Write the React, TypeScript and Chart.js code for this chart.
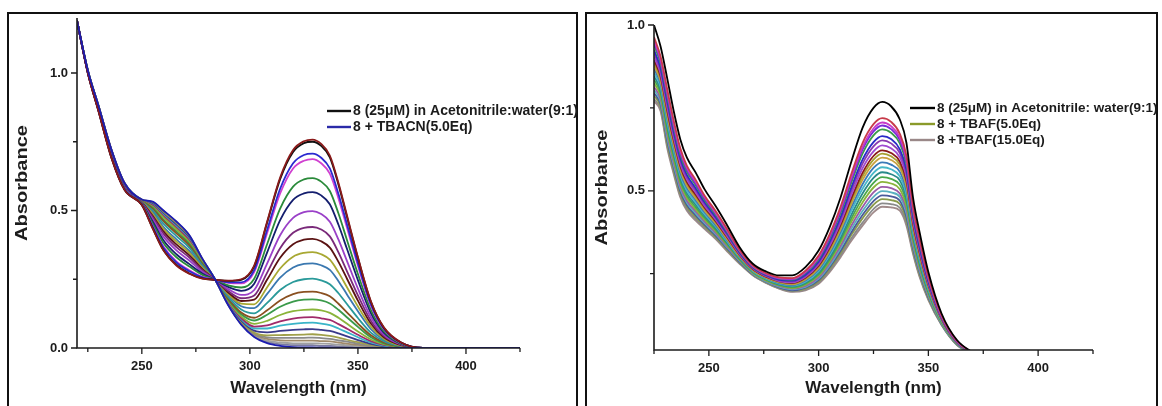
import React, { useEffect, useRef } from 'react';
import { Chart, registerables } from 'chart.js';

Chart.register(...registerables);

const FONT = '"Liberation Sans", Arial, Helvetica, sans-serif';
const INK = '#1c1c1c';

// ---------- Left panel: 8 + TBACN titration ----------
const cnWavelengths = [220, 225, 230, 236, 242, 250, 255, 260, 266, 272, 278, 284, 290, 296, 302, 308, 314, 320, 325, 329, 333, 337, 341, 345, 350, 356, 362, 370, 380, 425];
const cn01 = [1.19, 1.00, 0.86, 0.69, 0.575, 0.52, 0.435, 0.355, 0.30, 0.27, 0.252, 0.248, 0.245, 0.25, 0.30, 0.46, 0.62, 0.72, 0.752, 0.758, 0.742, 0.70, 0.60, 0.48, 0.33, 0.17, 0.075, 0.02, 0, 0];
const cn02 = [1.19, 1.00, 0.86, 0.69, 0.575, 0.52, 0.436, 0.356, 0.302, 0.271, 0.253, 0.248, 0.244, 0.248, 0.297, 0.456, 0.614, 0.713, 0.745, 0.750, 0.735, 0.693, 0.594, 0.475, 0.327, 0.168, 0.074, 0.02, 0, 0];
const cn03 = [1.19, 1.001, 0.861, 0.692, 0.577, 0.521, 0.442, 0.365, 0.311, 0.279, 0.257, 0.248, 0.239, 0.239, 0.283, 0.430, 0.579, 0.672, 0.702, 0.707, 0.692, 0.653, 0.560, 0.448, 0.308, 0.159, 0.070, 0.019, 0, 0];
const cn04 = [1.19, 1.001, 0.862, 0.693, 0.577, 0.522, 0.444, 0.369, 0.315, 0.283, 0.259, 0.248, 0.237, 0.235, 0.276, 0.418, 0.562, 0.653, 0.681, 0.687, 0.672, 0.634, 0.544, 0.435, 0.299, 0.154, 0.068, 0.018, 0, 0];
const cn05 = [1.19, 1.002, 0.864, 0.696, 0.580, 0.524, 0.453, 0.382, 0.330, 0.296, 0.266, 0.248, 0.228, 0.220, 0.252, 0.378, 0.507, 0.587, 0.613, 0.618, 0.605, 0.571, 0.489, 0.391, 0.269, 0.139, 0.061, 0.016, 0, 0];
const cn06 = [1.19, 1.003, 0.865, 0.698, 0.581, 0.525, 0.460, 0.392, 0.341, 0.305, 0.271, 0.248, 0.222, 0.208, 0.234, 0.348, 0.465, 0.539, 0.562, 0.567, 0.555, 0.523, 0.448, 0.359, 0.247, 0.127, 0.056, 0.015, 0, 0];
const cn07 = [1.19, 1.003, 0.867, 0.700, 0.584, 0.527, 0.468, 0.405, 0.355, 0.318, 0.277, 0.248, 0.214, 0.193, 0.211, 0.308, 0.410, 0.473, 0.494, 0.498, 0.487, 0.459, 0.394, 0.315, 0.216, 0.112, 0.049, 0.013, 0, 0];
const cn08 = [1.19, 1.004, 0.868, 0.703, 0.586, 0.528, 0.476, 0.416, 0.367, 0.329, 0.283, 0.248, 0.207, 0.181, 0.191, 0.274, 0.363, 0.419, 0.437, 0.440, 0.431, 0.406, 0.348, 0.278, 0.191, 0.099, 0.044, 0.012, 0, 0];
const cn09 = [1.19, 1.005, 0.870, 0.704, 0.587, 0.530, 0.481, 0.424, 0.377, 0.337, 0.287, 0.248, 0.202, 0.171, 0.176, 0.249, 0.328, 0.377, 0.394, 0.397, 0.388, 0.365, 0.313, 0.251, 0.172, 0.089, 0.039, 0.010, 0, 0];
const cn10 = [1.19, 1.005, 0.871, 0.706, 0.589, 0.531, 0.488, 0.433, 0.387, 0.346, 0.292, 0.248, 0.196, 0.161, 0.159, 0.221, 0.289, 0.332, 0.346, 0.349, 0.341, 0.321, 0.275, 0.220, 0.151, 0.078, 0.034, 0.009, 0, 0];
const cn11 = [1.19, 1.006, 0.872, 0.708, 0.590, 0.532, 0.493, 0.441, 0.395, 0.353, 0.295, 0.248, 0.192, 0.152, 0.145, 0.197, 0.256, 0.293, 0.306, 0.308, 0.301, 0.284, 0.243, 0.194, 0.134, 0.069, 0.030, 0.008, 0, 0];
const cn12 = [1.19, 1.007, 0.873, 0.710, 0.592, 0.533, 0.500, 0.452, 0.407, 0.364, 0.301, 0.248, 0.185, 0.140, 0.126, 0.164, 0.211, 0.240, 0.250, 0.252, 0.246, 0.232, 0.199, 0.159, 0.109, 0.056, 0.025, 0.007, 0, 0];
const cn13 = [1.19, 1.007, 0.875, 0.712, 0.593, 0.535, 0.506, 0.461, 0.417, 0.372, 0.305, 0.248, 0.179, 0.129, 0.110, 0.137, 0.173, 0.196, 0.204, 0.205, 0.200, 0.188, 0.161, 0.129, 0.089, 0.046, 0.020, 0.005, 0, 0];
const cn14 = [1.19, 1.008, 0.875, 0.713, 0.594, 0.535, 0.510, 0.466, 0.423, 0.378, 0.308, 0.248, 0.176, 0.123, 0.100, 0.121, 0.150, 0.169, 0.176, 0.177, 0.173, 0.162, 0.139, 0.111, 0.077, 0.039, 0.017, 0.005, 0, 0];
const cn15 = [1.19, 1.008, 0.876, 0.715, 0.595, 0.536, 0.514, 0.474, 0.431, 0.384, 0.312, 0.248, 0.172, 0.115, 0.088, 0.099, 0.120, 0.134, 0.139, 0.140, 0.137, 0.128, 0.110, 0.088, 0.060, 0.031, 0.014, 0.004, 0, 0];
const cn16 = [1.19, 1.009, 0.877, 0.716, 0.596, 0.537, 0.518, 0.479, 0.437, 0.390, 0.314, 0.248, 0.168, 0.109, 0.078, 0.082, 0.097, 0.107, 0.111, 0.112, 0.108, 0.102, 0.087, 0.070, 0.048, 0.025, 0.011, 0.003, 0, 0];
const cn17 = [1.19, 1.009, 0.878, 0.716, 0.597, 0.538, 0.520, 0.483, 0.441, 0.393, 0.316, 0.248, 0.166, 0.105, 0.071, 0.071, 0.081, 0.088, 0.091, 0.092, 0.089, 0.083, 0.071, 0.057, 0.039, 0.020, 0.009, 0.002, 0, 0];
const cn18 = [1.19, 1.009, 0.878, 0.717, 0.598, 0.538, 0.524, 0.487, 0.446, 0.398, 0.319, 0.248, 0.163, 0.100, 0.063, 0.057, 0.062, 0.066, 0.068, 0.069, 0.066, 0.062, 0.053, 0.042, 0.029, 0.015, 0.007, 0.002, 0, 0];
const cn19 = [1.19, 1.009, 0.879, 0.718, 0.598, 0.539, 0.526, 0.491, 0.450, 0.401, 0.320, 0.248, 0.161, 0.095, 0.056, 0.046, 0.047, 0.048, 0.049, 0.050, 0.048, 0.044, 0.038, 0.030, 0.021, 0.011, 0.005, 0.001, 0, 0];
const cn20 = [1.19, 1.010, 0.879, 0.719, 0.599, 0.539, 0.527, 0.493, 0.452, 0.403, 0.322, 0.248, 0.159, 0.093, 0.052, 0.039, 0.037, 0.037, 0.037, 0.038, 0.036, 0.033, 0.028, 0.023, 0.016, 0.008, 0.004, 0.001, 0, 0];
const cn21 = [1.19, 1.010, 0.879, 0.719, 0.599, 0.539, 0.529, 0.495, 0.455, 0.405, 0.323, 0.248, 0.158, 0.090, 0.049, 0.033, 0.028, 0.027, 0.027, 0.027, 0.025, 0.024, 0.020, 0.016, 0.011, 0.006, 0.002, 0.001, 0, 0];
const cn22 = [1.19, 1.010, 0.880, 0.719, 0.600, 0.540, 0.530, 0.497, 0.457, 0.407, 0.324, 0.248, 0.157, 0.088, 0.045, 0.027, 0.020, 0.017, 0.017, 0.017, 0.016, 0.015, 0.012, 0.010, 0.007, 0.003, 0.002, 0, 0, 0];
const cn23 = [1.19, 1.010, 0.880, 0.720, 0.600, 0.540, 0.531, 0.499, 0.458, 0.409, 0.324, 0.248, 0.156, 0.087, 0.043, 0.022, 0.014, 0.010, 0.010, 0.010, 0.008, 0.008, 0.006, 0.005, 0.003, 0.002, 0.001, 0, 0, 0];
const cn24 = [1.19, 1.01, 0.88, 0.72, 0.60, 0.54, 0.532, 0.50, 0.46, 0.41, 0.325, 0.248, 0.155, 0.085, 0.04, 0.018, 0.008, 0.003, 0.002, 0.002, 0.001, 0.001, 0, 0, 0, 0, 0, 0, 0, 0];

// drawing order: first listed is drawn on top
const cnSeries = [cn24, cn01, cn02, cn03, cn04, cn05, cn06, cn07, cn08, cn09, cn10, cn11, cn12, cn13, cn14, cn15, cn16, cn17, cn18, cn19, cn20, cn21, cn22, cn23];
const cnColors = ['#1c1cb0', '#8b1a1a', '#111111', '#2a2ad0', '#d040d0', '#2a8a3a', '#141e6e', '#9a40c8', '#7a2a7a', '#5a1212', '#a8a832', '#3a78b0', '#2a9a9a', '#8a5020', '#3a9a4a', '#8ab43a', '#a02a6a', '#3ab4c8', '#3a3a8a', '#a0a04a', '#8a8a8a', '#a08a6a', '#a0a0a0', '#7a7aa0'];
const cnXTicks = [250, 300, 350, 400];
const cnXMinor = [225, 275, 325, 375, 425];
const cnYTicks = [0, 0.5, 1.0];
const cnYMinor = [0.25, 0.75];
const cnLegendLabels = ['8 (25\u03bcM) in Acetonitrile:water(9:1)', '8 + TBACN(5.0Eq)'];
const cnLegendColors = ['#111111', '#2a2aa8'];

// ---------- Right panel: 8 + TBAF titration ----------
const fWavelengths = [225, 228, 231, 234, 237, 240, 244, 248, 253, 258, 264, 270, 276, 282, 288, 294, 300, 305, 310, 315, 320, 325, 329, 333, 337, 340, 343, 346, 350, 356, 363, 372];
const f01 = [1.0, 0.935, 0.84, 0.74, 0.655, 0.60, 0.555, 0.505, 0.455, 0.40, 0.33, 0.28, 0.257, 0.245, 0.245, 0.27, 0.32, 0.39, 0.48, 0.59, 0.69, 0.75, 0.768, 0.755, 0.715, 0.645, 0.48, 0.375, 0.255, 0.13, 0.05, 0.005];
const f02 = [0.964, 0.905, 0.807, 0.711, 0.628, 0.575, 0.533, 0.486, 0.440, 0.388, 0.322, 0.275, 0.252, 0.239, 0.237, 0.259, 0.305, 0.369, 0.452, 0.553, 0.644, 0.701, 0.719, 0.708, 0.672, 0.606, 0.454, 0.354, 0.242, 0.125, 0.048, 0.005];
const f03 = [0.955, 0.897, 0.799, 0.703, 0.621, 0.569, 0.527, 0.482, 0.435, 0.384, 0.320, 0.273, 0.250, 0.237, 0.235, 0.256, 0.300, 0.364, 0.445, 0.543, 0.632, 0.688, 0.706, 0.695, 0.661, 0.596, 0.447, 0.349, 0.238, 0.123, 0.047, 0.005];
const f04 = [0.948, 0.891, 0.793, 0.697, 0.616, 0.564, 0.522, 0.478, 0.433, 0.382, 0.319, 0.272, 0.249, 0.236, 0.234, 0.254, 0.298, 0.360, 0.440, 0.536, 0.624, 0.679, 0.697, 0.686, 0.653, 0.589, 0.442, 0.345, 0.236, 0.122, 0.047, 0.005];
const f05 = [0.940, 0.884, 0.785, 0.690, 0.609, 0.558, 0.517, 0.473, 0.429, 0.379, 0.317, 0.271, 0.248, 0.235, 0.232, 0.252, 0.294, 0.355, 0.433, 0.527, 0.612, 0.667, 0.685, 0.675, 0.643, 0.579, 0.435, 0.340, 0.233, 0.121, 0.046, 0.004];
const f06 = [0.925, 0.871, 0.772, 0.678, 0.598, 0.548, 0.508, 0.466, 0.422, 0.374, 0.314, 0.269, 0.246, 0.232, 0.229, 0.247, 0.287, 0.346, 0.421, 0.512, 0.594, 0.647, 0.665, 0.656, 0.625, 0.564, 0.425, 0.331, 0.227, 0.119, 0.045, 0.004];
const f07 = [0.916, 0.863, 0.763, 0.670, 0.591, 0.541, 0.502, 0.461, 0.418, 0.371, 0.312, 0.267, 0.244, 0.230, 0.227, 0.244, 0.283, 0.341, 0.414, 0.502, 0.582, 0.634, 0.652, 0.643, 0.614, 0.553, 0.418, 0.326, 0.224, 0.117, 0.045, 0.004];
const f08 = [0.905, 0.854, 0.753, 0.661, 0.582, 0.534, 0.495, 0.455, 0.414, 0.367, 0.309, 0.266, 0.243, 0.228, 0.224, 0.241, 0.279, 0.334, 0.405, 0.490, 0.568, 0.619, 0.637, 0.628, 0.601, 0.541, 0.410, 0.319, 0.220, 0.116, 0.044, 0.004];
const f09 = [0.894, 0.845, 0.743, 0.652, 0.574, 0.526, 0.488, 0.450, 0.409, 0.363, 0.307, 0.264, 0.241, 0.227, 0.222, 0.238, 0.274, 0.328, 0.397, 0.479, 0.554, 0.605, 0.622, 0.614, 0.588, 0.530, 0.402, 0.313, 0.216, 0.114, 0.043, 0.004];
const f10 = [0.886, 0.839, 0.736, 0.646, 0.569, 0.521, 0.483, 0.446, 0.406, 0.361, 0.305, 0.263, 0.240, 0.225, 0.220, 0.235, 0.271, 0.323, 0.391, 0.471, 0.544, 0.594, 0.612, 0.604, 0.579, 0.522, 0.396, 0.308, 0.213, 0.113, 0.043, 0.004];
const f11 = [0.878, 0.831, 0.728, 0.639, 0.562, 0.515, 0.478, 0.441, 0.402, 0.357, 0.303, 0.261, 0.238, 0.224, 0.218, 0.233, 0.267, 0.318, 0.384, 0.462, 0.533, 0.582, 0.600, 0.593, 0.569, 0.512, 0.390, 0.303, 0.210, 0.111, 0.042, 0.004];
const f12 = [0.868, 0.823, 0.719, 0.631, 0.554, 0.508, 0.472, 0.436, 0.397, 0.354, 0.301, 0.260, 0.237, 0.222, 0.216, 0.230, 0.262, 0.312, 0.376, 0.452, 0.520, 0.569, 0.586, 0.579, 0.557, 0.501, 0.382, 0.297, 0.206, 0.110, 0.041, 0.004];
const f13 = [0.857, 0.814, 0.709, 0.622, 0.546, 0.500, 0.465, 0.430, 0.393, 0.350, 0.299, 0.258, 0.235, 0.220, 0.214, 0.226, 0.258, 0.306, 0.368, 0.441, 0.506, 0.554, 0.571, 0.565, 0.544, 0.489, 0.374, 0.291, 0.202, 0.108, 0.041, 0.004];
const f14 = [0.846, 0.804, 0.699, 0.613, 0.538, 0.493, 0.458, 0.425, 0.388, 0.346, 0.297, 0.257, 0.234, 0.218, 0.212, 0.223, 0.253, 0.299, 0.359, 0.429, 0.492, 0.539, 0.556, 0.550, 0.531, 0.477, 0.366, 0.284, 0.198, 0.107, 0.040, 0.004];
const f15 = [0.835, 0.795, 0.689, 0.604, 0.529, 0.485, 0.451, 0.419, 0.383, 0.343, 0.294, 0.255, 0.232, 0.216, 0.209, 0.220, 0.248, 0.293, 0.351, 0.418, 0.478, 0.524, 0.541, 0.536, 0.518, 0.466, 0.358, 0.278, 0.194, 0.105, 0.039, 0.004];
const f16 = [0.825, 0.786, 0.680, 0.595, 0.522, 0.478, 0.444, 0.413, 0.379, 0.339, 0.292, 0.253, 0.230, 0.215, 0.207, 0.217, 0.244, 0.287, 0.343, 0.407, 0.465, 0.510, 0.527, 0.522, 0.505, 0.454, 0.350, 0.272, 0.190, 0.103, 0.039, 0.003];
const f17 = [0.814, 0.777, 0.670, 0.586, 0.513, 0.470, 0.438, 0.408, 0.374, 0.335, 0.290, 0.252, 0.229, 0.213, 0.205, 0.213, 0.239, 0.281, 0.334, 0.396, 0.451, 0.495, 0.512, 0.508, 0.492, 0.443, 0.342, 0.266, 0.186, 0.102, 0.038, 0.003];
const f18 = [0.804, 0.769, 0.661, 0.578, 0.506, 0.464, 0.432, 0.403, 0.370, 0.332, 0.288, 0.250, 0.227, 0.211, 0.203, 0.210, 0.235, 0.275, 0.327, 0.386, 0.439, 0.482, 0.499, 0.495, 0.481, 0.432, 0.335, 0.260, 0.183, 0.100, 0.037, 0.003];
const f19 = [0.795, 0.761, 0.653, 0.571, 0.499, 0.457, 0.426, 0.398, 0.366, 0.329, 0.285, 0.249, 0.226, 0.209, 0.200, 0.208, 0.231, 0.270, 0.319, 0.376, 0.427, 0.469, 0.486, 0.483, 0.470, 0.422, 0.328, 0.255, 0.179, 0.099, 0.037, 0.003];
const f20 = [0.787, 0.754, 0.645, 0.564, 0.493, 0.452, 0.421, 0.394, 0.362, 0.326, 0.284, 0.248, 0.225, 0.208, 0.199, 0.205, 0.227, 0.265, 0.313, 0.368, 0.417, 0.458, 0.475, 0.472, 0.460, 0.413, 0.322, 0.250, 0.176, 0.098, 0.036, 0.003];
const f21 = [0.777, 0.746, 0.637, 0.556, 0.486, 0.445, 0.415, 0.389, 0.358, 0.323, 0.282, 0.246, 0.223, 0.206, 0.197, 0.202, 0.223, 0.259, 0.306, 0.358, 0.404, 0.445, 0.462, 0.460, 0.449, 0.403, 0.315, 0.244, 0.173, 0.096, 0.036, 0.003];
const f22 = [0.77, 0.74, 0.63, 0.55, 0.48, 0.44, 0.41, 0.385, 0.355, 0.32, 0.28, 0.245, 0.222, 0.205, 0.195, 0.20, 0.22, 0.255, 0.30, 0.35, 0.395, 0.435, 0.452, 0.45, 0.44, 0.395, 0.31, 0.24, 0.17, 0.095, 0.035, 0.003];

const fSeries = [f01, f02, f03, f04, f05, f06, f07, f08, f09, f10, f11, f12, f13, f14, f15, f16, f17, f18, f19, f20, f21, f22];
const fColors = ['#000000', '#c83a4a', '#c83ac8', '#7a2ad8', '#3a9a4a', '#2a2ac8', '#8a3ab0', '#a04ad0', '#8a1a1a', '#a8a030', '#c8a040', '#3a7ab8', '#48b8c8', '#2a8a8a', '#4aa84a', '#8ab43a', '#9a5aa8', '#5ab0c0', '#4a5a9a', '#8a9a4a', '#8a8a8a', '#a08a8a'];
const fXTicks = [250, 300, 350, 400];
const fXMinor = [225, 275, 325, 375, 425];
const fYTicks = [0.5, 1.0];
const fYMinor = [0.25, 0.75];
const fLegendLabels = ['8 (25\u03bcM) in Acetonitrile: water(9:1)', '8 + TBAF(5.0Eq)', '8 +TBAF(15.0Eq)'];
const fLegendColors = ['#000000', '#8a9a2a', '#9a8888'];

const axesPlugin = {
  id: 'axesLegend',
  afterDatasetsDraw(chart: any, _args: any, opts: any) {
    const { ctx, chartArea } = chart;
    const { left, right, top, bottom } = chartArea;
    const xs = chart.scales.x;
    const ys = chart.scales.y;
    ctx.save();
    ctx.strokeStyle = INK;
    ctx.lineWidth = 1.6;
    ctx.beginPath();
    ctx.moveTo(left, top);
    ctx.lineTo(left, bottom);
    ctx.lineTo(right, bottom);
    ctx.stroke();
    ctx.lineWidth = 1.3;
    ctx.beginPath();
    for (const v of opts.xMajor) {
      const p = xs.getPixelForValue(v);
      ctx.moveTo(p, bottom);
      ctx.lineTo(p, bottom + 6);
    }
    for (const v of opts.xMinor) {
      const p = xs.getPixelForValue(v);
      ctx.moveTo(p, bottom);
      ctx.lineTo(p, bottom + 4);
    }
    for (const v of opts.yMajor) {
      const p = ys.getPixelForValue(v);
      ctx.moveTo(left, p);
      ctx.lineTo(left - 6, p);
    }
    for (const v of opts.yMinor) {
      const p = ys.getPixelForValue(v);
      ctx.moveTo(left, p);
      ctx.lineTo(left - 4, p);
    }
    ctx.stroke();

    // y axis title (slightly stretched along its length, as in the source figure)
    ctx.save();
    ctx.fillStyle = INK;
    ctx.font = `bold 17px ${FONT}`;
    ctx.textAlign = 'center';
    ctx.textBaseline = 'middle';
    ctx.translate(opts.yTitleX, (top + bottom) / 2);
    ctx.rotate(-Math.PI / 2);
    ctx.scale(1.18, 1);
    ctx.fillText(opts.yTitle, 0, 0);
    ctx.restore();

    ctx.font = `bold ${opts.legendSize}px ${FONT}`;
    ctx.textBaseline = 'middle';
    ctx.textAlign = 'left';
    opts.legendLabels.forEach((label: string, i: number) => {
      const y = opts.legendY + i * opts.legendGap;
      ctx.strokeStyle = opts.legendColors[i];
      ctx.lineWidth = 2.4;
      ctx.beginPath();
      ctx.moveTo(opts.legendX, y);
      ctx.lineTo(opts.legendX + opts.legendLen, y);
      ctx.stroke();
      ctx.fillStyle = INK;
      ctx.fillText(label, opts.legendX + opts.legendLen + 2, y + 0.5);
    });
    ctx.restore();
  },
};

function makeConfig(p: any) {
  return {
    type: 'line',
    data: {
      datasets: p.series.map((arr: number[], i: number) => ({
        data: p.wl.map((x: number, k: number) => ({ x, y: arr[k] })),
        borderColor: p.colors[i],
        borderWidth: 1.8,
        pointRadius: 0,
        fill: false,
        cubicInterpolationMode: 'monotone',
      })),
    },
    options: {
      animation: false,
      responsive: false,
      maintainAspectRatio: false,
      events: [],
      layout: { padding: { left: 0, right: p.padRight, top: p.padTop, bottom: 0 } },
      plugins: {
        legend: { display: false },
        tooltip: { enabled: false },
        axesLegend: {
          xMajor: p.xTicks,
          xMinor: p.xMinor,
          yMajor: p.yTicks,
          yMinor: p.yMinor,
          yTitle: 'Absorbance',
          yTitleX: 22,
          legendLabels: p.legendLabels,
          legendColors: p.legendColors,
          legendX: p.legendX,
          legendY: p.legendY,
          legendGap: p.legendGap,
          legendLen: p.legendLen,
          legendSize: p.legendSize,
        },
      },
      scales: {
        x: {
          type: 'linear',
          min: p.xMin,
          max: p.xMax,
          afterBuildTicks: (s: any) => {
            s.ticks = p.xTicks.map((v: number) => ({ value: v }));
          },
          afterFit: (s: any) => {
            s.height = p.xHeight;
          },
          grid: { display: false, drawTicks: false },
          border: { display: false },
          ticks: {
            padding: 11,
            autoSkip: false,
            maxRotation: 0,
            color: INK,
            font: { family: FONT, weight: 'bold', size: 13 },
            callback: (v: any) => String(v),
          },
          title: {
            display: true,
            text: 'Wavelength (nm)',
            color: INK,
            font: { family: FONT, weight: 'bold', size: 17 },
            padding: { top: 0, bottom: 7 },
          },
        },
        y: {
          type: 'linear',
          min: p.yMin,
          max: p.yMax,
          afterBuildTicks: (s: any) => {
            s.ticks = p.yTicks.map((v: number) => ({ value: v }));
          },
          afterFit: (s: any) => {
            s.width = p.yWidth;
          },
          grid: { display: false, drawTicks: false },
          border: { display: false },
          ticks: {
            padding: 9,
            color: INK,
            font: { family: FONT, weight: 'bold', size: 13 },
            callback: (v: any) => Number(v).toFixed(1),
          },
          title: { display: false },
        },
      },
    },
    plugins: [axesPlugin],
  };
}

export default function App() {
  const leftRef = useRef<HTMLCanvasElement | null>(null);
  const rightRef = useRef<HTMLCanvasElement | null>(null);

  useEffect(() => {
    const left = new Chart(
      leftRef.current as HTMLCanvasElement,
      makeConfig({
        wl: cnWavelengths,
        series: cnSeries,
        colors: cnColors,
        xMin: 220,
        xMax: 425,
        yMin: 0,
        yMax: 1.2,
        xTicks: cnXTicks,
        xMinor: cnXMinor,
        yTicks: cnYTicks,
        yMinor: cnYMinor,
        padRight: 60,
        padTop: 18,
        xHeight: 58,
        yWidth: 77,
        legendLabels: cnLegendLabels,
        legendColors: cnLegendColors,
        legendX: 327,
        legendY: 111,
        legendGap: 16,
        legendLen: 24,
        legendSize: 14,
      }) as any
    );
    const right = new Chart(
      rightRef.current as HTMLCanvasElement,
      makeConfig({
        wl: fWavelengths,
        series: fSeries,
        colors: fColors,
        xMin: 225,
        xMax: 425,
        yMin: 0.02,
        yMax: 1.0,
        xTicks: fXTicks,
        xMinor: fXMinor,
        yTicks: fYTicks,
        yMinor: fYMinor,
        padRight: 69,
        padTop: 25,
        xHeight: 56,
        yWidth: 74,
        legendLabels: fLegendLabels,
        legendColors: fLegendColors,
        legendX: 330,
        legendY: 108,
        legendGap: 16,
        legendLen: 25,
        legendSize: 13.5,
      }) as any
    );
    return () => {
      left.destroy();
      right.destroy();
    };
  }, []);

  return (
    <div style={{ position: 'absolute', left: 0, top: 0, width: 1162, height: 406, overflow: 'hidden', background: '#ffffff' }}>
      <div style={{ position: 'absolute', left: 7, top: 12, width: 571, height: 430, border: '2px solid #111', boxSizing: 'border-box' }} />
      <div style={{ position: 'absolute', left: 585, top: 12, width: 573, height: 430, border: '2px solid #111', boxSizing: 'border-box' }} />
      <canvas ref={leftRef} width={580} height={406} style={{ position: 'absolute', left: 0, top: 0 }} />
      <canvas ref={rightRef} width={582} height={406} style={{ position: 'absolute', left: 580, top: 0 }} />
    </div>
  );
}
